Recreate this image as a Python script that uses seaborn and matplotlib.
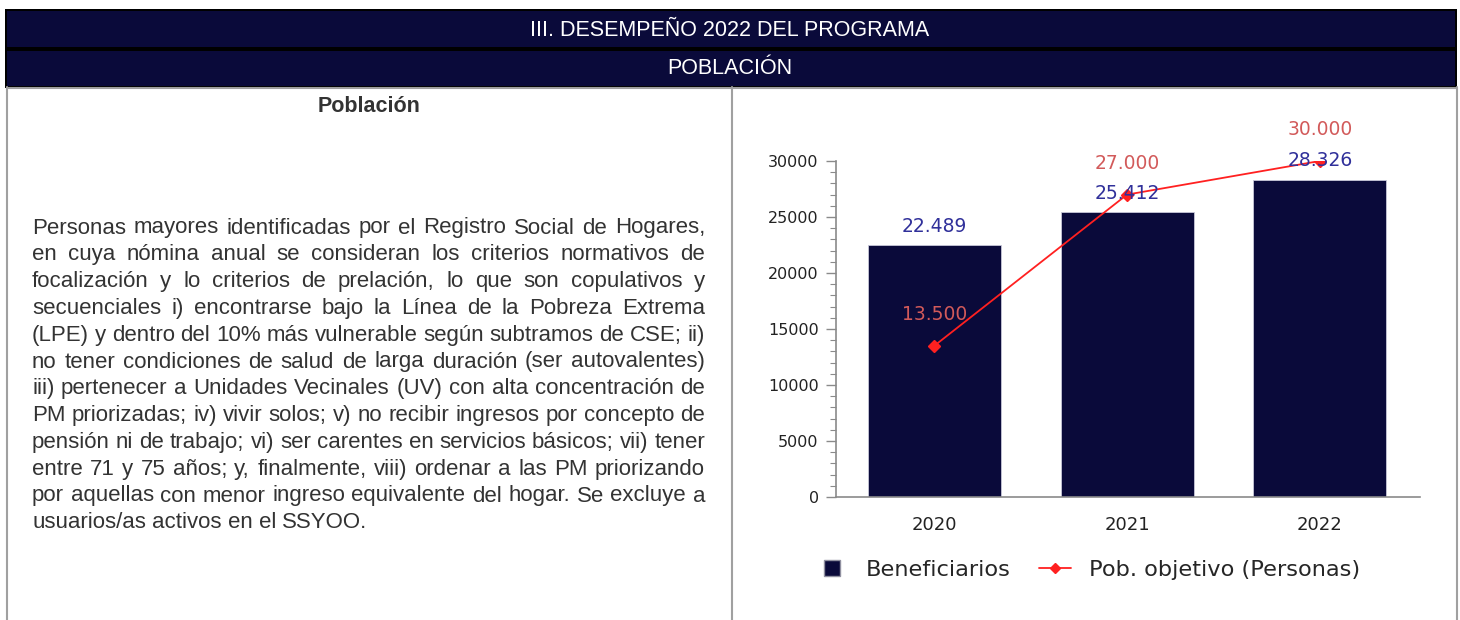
import matplotlib
matplotlib.use("Agg")
import matplotlib.pyplot as plt
import seaborn as sns
import pandas as pd
from matplotlib.patches import Rectangle
from matplotlib.lines import Line2D
from matplotlib.ticker import MultipleLocator

# ---------------- data ----------------
years = ["2020", "2021", "2022"]
beneficiarios = [22489, 25412, 28326]
pob_objetivo = [13500, 27000, 30000]
benef_labels = ["22.489", "25.412", "28.326"]
obj_labels = ["13.500", "27.000", "30.000"]

header_title = "III. DESEMPEÑO 2022 DEL PROGRAMA"
header_sub = "POBLACIÓN"
panel_title = "Población"
paragraph_lines = [
    "Personas mayores identificadas por el Registro Social de Hogares,",
    "en cuya nómina anual se consideran los criterios normativos de",
    "focalización y lo criterios de prelación, lo que son copulativos y",
    "secuenciales i) encontrarse bajo la Línea de la Pobreza Extrema",
    "(LPE) y dentro del 10% más vulnerable según subtramos de CSE; ii)",
    "no tener condiciones de salud de larga duración (ser autovalentes)",
    "iii) pertenecer a Unidades Vecinales (UV) con alta concentración de",
    "PM priorizadas; iv) vivir solos; v) no recibir ingresos por concepto de",
    "pensión ni de trabajo; vi) ser carentes en servicios básicos; vii) tener",
    "entre 71 y 75 años; y, finalmente, viii) ordenar a las PM priorizando",
    "por aquellas con menor ingreso equivalente del hogar. Se excluye a",
    "usuarios/as activos en el SSYOO.",
]
legend_labels = ["Beneficiarios", "Pob. objetivo (Personas)"]

NAVY = "#0a0a3a"
W, H = 1460, 620

sns.set_theme(style="white")
plt.rcParams["font.family"] = ["DejaVu Sans"]

fig = plt.figure(figsize=(W / 100, H / 100), dpi=100)
fig.patch.set_facecolor("white")

# overlay in pixel coords
bg = fig.add_axes([0, 0, 1, 1], zorder=0)
bg.set_xlim(0, W)
bg.set_ylim(H, 0)
bg.axis("off")

# header
bg.add_patch(Rectangle((5, 9), 1452, 79, facecolor="black", edgecolor="none"))
bg.add_patch(Rectangle((7, 11), 1448, 36, facecolor=NAVY, edgecolor="none"))
bg.add_patch(Rectangle((7, 51), 1448, 35, facecolor=NAVY, edgecolor="none"))
bg.text(730, 31, header_title, color="white", ha="center", va="center",
        fontsize=15.5, family="Liberation Sans")
bg.text(730, 69, header_sub, color="white", ha="center", va="center",
        fontsize=15.5, family="Liberation Sans")

# panel borders
GREY = "#a0a0a0"
bg.plot([7, 1457], [87.5, 87.5], color=GREY, lw=1.5)
for xx in (7, 732, 1457):
    bg.plot([xx, xx], [87, 620], color=GREY, lw=1.5)

bg.text(369, 106, panel_title, ha="center", va="center", fontsize=15.5,
        fontweight="bold", family="Liberation Sans", color="#333333")

# justified paragraph
fig.canvas.draw()
renderer = fig.canvas.get_renderer()
x0, x1 = 32, 705
y0, dy = 228, 26.8
fs = 16
t = bg.text(0, -100, "a a", fontsize=fs, family="Liberation Sans")
t2 = bg.text(0, -100, "aa", fontsize=fs, family="Liberation Sans")
space_w = t.get_window_extent(renderer).width - t2.get_window_extent(renderer).width
t.remove(); t2.remove()
for i, line in enumerate(paragraph_lines):
    words = line.split(" ")
    y = y0 + i * dy
    texts = []
    widths = []
    for w in words:
        tt = bg.text(0, y, w, ha="left", va="center", fontsize=fs,
                     family="Liberation Sans", color="#333333")
        texts.append(tt)
        widths.append(tt.get_window_extent(renderer=renderer).width)
    if i == len(paragraph_lines) - 1 or len(words) == 1:
        gap = space_w
    else:
        gap = (x1 - x0 - sum(widths)) / (len(words) - 1)
    x = x0
    for tt, wdt in zip(texts, widths):
        tt.set_x(x)
        x += wdt + gap

# ---------------- chart ----------------
left, right = 836 / W, 1420 / W
bottom, top = 1 - 497 / H, 1 - 161 / H
ax = fig.add_axes([left, bottom, right - left, top - bottom], zorder=2)
ax.patch.set_alpha(0)

df = pd.DataFrame({"year": years, "benef": beneficiarios, "obj": pob_objetivo})
sns.barplot(data=df, x="year", y="benef", color=NAVY, saturation=1,
            width=0.69, edgecolor="#c8c8d8", linewidth=0.6, ax=ax, zorder=2)
ax.plot(range(len(years)), pob_objetivo, color="#ff2020", lw=1.3,
        marker="D", markersize=6, zorder=4)

for i, (b, lab) in enumerate(zip(beneficiarios, benef_labels)):
    ax.annotate(lab, (i, b), xytext=(0, 13.5), textcoords="offset points",
                ha="center", va="center", color="#30309a", fontsize=13.5, zorder=5)
for i, (o, lab) in enumerate(zip(pob_objetivo, obj_labels)):
    ax.annotate(lab, (i, o), xytext=(0, 22.5), textcoords="offset points",
                ha="center", va="center", color="#d25a5a", fontsize=13.5, zorder=5)

ax.set_xlim(-0.51, 2.52)
ax.set_ylim(0, 30000)
ax.yaxis.set_major_locator(MultipleLocator(5000))
ax.yaxis.set_minor_locator(MultipleLocator(1000))
ax.set_xlabel("")
ax.set_ylabel("")
for s in ("top", "right"):
    ax.spines[s].set_visible(False)
for s in ("left", "bottom"):
    ax.spines[s].set_color("#8a8a8a")
    ax.spines[s].set_linewidth(1.2)
ax.tick_params(axis="y", which="major", left=True, length=7.5, width=1,
               color="#8a8a8a", labelsize=11.5, labelcolor="#222222", pad=5)
ax.tick_params(axis="y", which="minor", left=True, length=4, width=0.8,
               color="#8a8a8a")
ax.tick_params(axis="x", bottom=False, labelsize=13, labelcolor="#222222", pad=8)

handles = [
    Line2D([0], [0], marker="s", color="none", markerfacecolor=NAVY,
           markeredgecolor="#9090a0", markersize=11),
    Line2D([0], [0], color="#ff2020", lw=1.3, marker="D", markersize=5),
]
fig.legend(handles, legend_labels, loc="center", bbox_to_anchor=(1088 / W, 1 - 570 / H),
           ncol=2, frameon=False, fontsize=16.2, handlelength=1.4,
           columnspacing=1.3, handletextpad=0.8)

fig.savefig("out.png", dpi=100, facecolor="white")
